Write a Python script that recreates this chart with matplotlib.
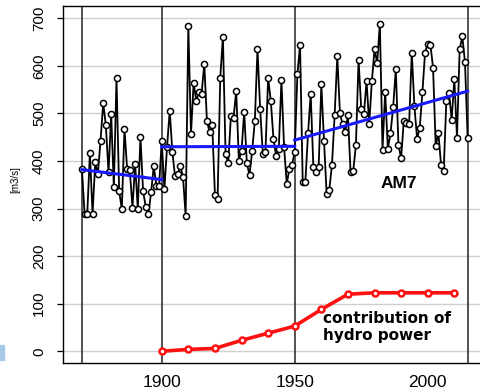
import matplotlib
matplotlib.use("Agg")
import matplotlib.pyplot as plt
from matplotlib.patches import Rectangle

years = list(range(1870, 2016))
am7 = [383, 289, 288, 417, 288, 397, 373, 443, 522, 475,
       376, 498, 345, 574, 336, 299, 468, 383, 381, 302,
       394, 299, 451, 336, 304, 288, 334, 389, 348, 347,
       442, 341, 429, 506, 419, 368, 373, 389, 367, 285,
       684, 457, 565, 526, 546, 542, 605, 484, 461, 475,
       329, 320, 575, 661, 415, 396, 494, 491, 547, 401,
       422, 503, 396, 370, 422, 484, 636, 510, 415, 420,
       575, 527, 447, 411, 425, 570, 429, 352, 384, 392,
       420, 582, 644, 356, 356, 458, 542, 388, 378, 388,
       561, 443, 331, 340, 392, 496, 620, 500, 477, 461,
       496, 376, 380, 433, 613, 510, 499, 568, 478, 568,
       635, 606, 689, 424, 546, 426, 458, 513, 594, 433,
       406, 485, 480, 478, 627, 515, 447, 470, 545, 628,
       647, 645, 596, 432, 459, 392, 380, 526, 544, 487,
       573, 449, 635, 662, 608, 449]

trend_x = [[1870, 1900], [1900, 1950], [1950, 2015]]
trend_y = [[382, 361], [430, 431], [444, 547]]

hydro_years = [1900, 1910, 1920, 1930, 1940, 1950, 1960, 1970, 1980, 1990, 2000, 2010]
hydro = [0, 4, 6, 23, 38, 53, 88, 120, 123, 123, 123, 123]

vlines = [1870, 1900, 1950, 2015]
yticks = [0, 100, 200, 300, 400, 500, 600, 700]
xticks = [1900, 1950, 2000]

plt.rcParams['font.family'] = ['Liberation Sans', 'DejaVu Sans']

fig = plt.figure(figsize=(4.8, 3.9), dpi=100)
ax = fig.add_axes([63.3 / 480, 27.3 / 390, (482 - 63.3) / 480, (362.7 - 6) / 390])
ax.set_xlim(1863, 2020.4)
ax.set_ylim(-24, 726)

for yv in yticks:
    ax.axhline(yv, color='#cfcfcf', lw=1.0, zorder=0)
for xv in vlines:
    ax.axvline(xv, color='#444444', lw=1.3, zorder=0.5)

ax.plot(years, am7, color='black', lw=1.3, zorder=2)
ax.plot(years, am7, ls='none', marker='o', ms=4.4, mfc='white', mec='black', mew=1.1, zorder=3)

for tx, ty in zip(trend_x, trend_y):
    ax.plot(tx, ty, color='#1a1aff', lw=2.2, zorder=4)

ax.plot(hydro_years, hydro, color='#ff1010', lw=2.6, marker='o', ms=4.3,
        mfc='white', mec='#ff1010', mew=1.8, zorder=5)

fig.text(399 / 480, 1 - 183 / 390, 'AM7', fontsize=12.5, fontweight='bold',
         ha='center', va='center', family='Liberation Sans')
fig.text(323 / 480, 1 - 311 / 390, 'contribution of\nhydro power', fontsize=11,
         fontweight='bold', ha='left', va='top', linespacing=1.2,
         family='DejaVu Sans')

ax.set_xticks(xticks)
ax.set_xticklabels([str(v) for v in xticks], fontsize=12.5)
ax.tick_params(axis='x', length=0, pad=8.5)
ax.set_yticks(yticks)
ax.set_yticklabels([str(v) for v in yticks], fontsize=11, rotation=90, va='center')
ax.tick_params(axis='y', length=4, width=0.9, pad=8.5)

for s in ['left', 'bottom', 'top', 'right']:
    ax.spines[s].set_color('black')
    ax.spines[s].set_linewidth(1.0)

fig.text(15 / 480, 1 - 180 / 390, '[m3/s]', rotation=90, fontsize=7, ha='center', va='center')
fig.patches.append(Rectangle((0, 1 - 360 / 390), 4 / 480, 15 / 390,
                             transform=fig.transFigure, color='#a8c8e8', figure=fig))

fig.savefig('out.png', dpi=100)
